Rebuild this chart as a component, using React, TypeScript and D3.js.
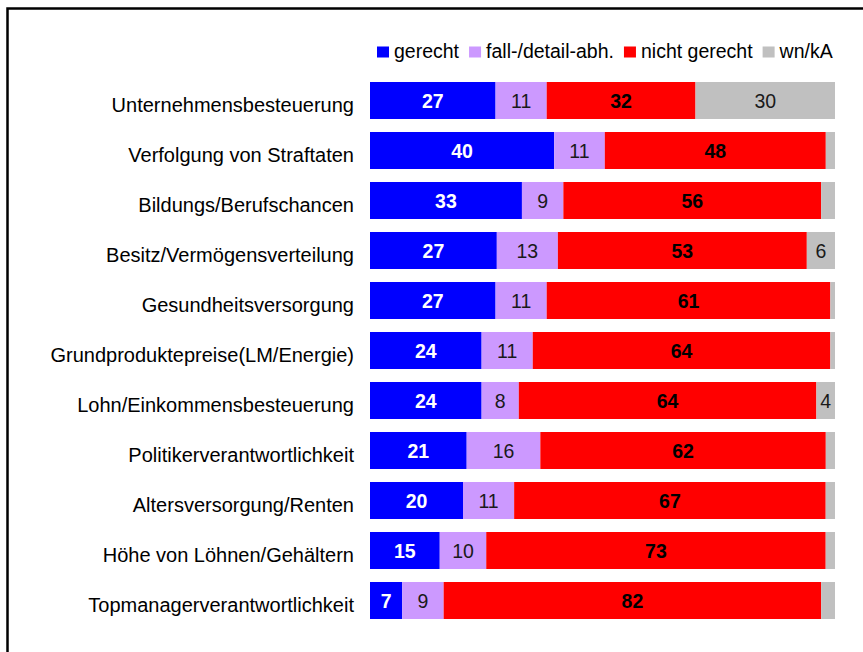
import React, { useEffect, useRef } from 'react';
import * as d3 from 'd3';

const categories = [
  'Unternehmensbesteuerung',
  'Verfolgung von Straftaten',
  'Bildungs/Berufschancen',
  'Besitz/Vermögensverteilung',
  'Gesundheitsversorgung',
  'Grundproduktepreise(LM/Energie)',
  'Lohn/Einkommensbesteuerung',
  'Politikerverantwortlichkeit',
  'Altersversorgung/Renten',
  'Höhe von Löhnen/Gehältern',
  'Topmanagerverantwortlichkeit',
];

const gerecht = [27, 40, 33, 27, 27, 24, 24, 21, 20, 15, 7];
const fallAbh = [11, 11, 9, 13, 11, 11, 8, 16, 11, 10, 9];
const nichtGerecht = [32, 48, 56, 53, 61, 64, 64, 62, 67, 73, 82];
const wnKa = [30, 2, 3, 6, 1, 1, 4, 2, 2, 2, 3];

const seriesNames = ['gerecht', 'fall-/detail-abh.', 'nicht gerecht', 'wn/kA'];
const seriesColors = ['#0000ff', '#cc99ff', '#ff0000', '#c0c0c0'];

const W = 863;
const H = 652;
const FONT = '"Liberation Sans", Arial, sans-serif';

const App: React.FC = () => {
  const ref = useRef<SVGSVGElement>(null);

  useEffect(() => {
    const svg = d3.select(ref.current);
    svg.selectAll('*').remove();

    // frame (runs off the right and bottom edge like in the original)
    svg.append('rect')
      .attr('x', 7.5).attr('y', 8.5)
      .attr('width', W + 20).attr('height', H + 20)
      .attr('fill', 'none').attr('stroke', '#000').attr('stroke-width', 2.5);

    const rows = categories.map((c, i) => ({
      name: c,
      vals: [gerecht[i], fallAbh[i], nichtGerecht[i], wnKa[i]],
    }));

    const x = d3.scaleLinear().domain([0, 1]).range([370, 835]);
    const y = d3.scaleBand<string>()
      .domain(categories)
      .range([75.5, 625.5])
      .paddingInner(0.26)
      .paddingOuter(0.13);

    const g = svg.append('g');

    rows.forEach((row) => {
      const total = d3.sum(row.vals);
      let acc = 0;
      const y0 = y(row.name)!;
      const bh = y.bandwidth();
      row.vals.forEach((v, k) => {
        const x0 = x(acc / total);
        const x1 = x((acc + v) / total);
        acc += v;
        g.append('rect')
          .attr('x', x0).attr('y', y0)
          .attr('width', x1 - x0).attr('height', bh)
          .attr('fill', seriesColors[k]);
        if (k < 3 || v >= 4) {
          g.append('text')
            .attr('x', (x0 + x1) / 2)
            .attr('y', y0 + bh / 2 + 7.5)
            .attr('text-anchor', 'middle')
            .attr('font-family', FONT)
            .attr('font-size', 19.5)
            .attr('font-weight', k === 0 || k === 2 ? 'bold' : 'normal')
            .attr('fill', k === 0 ? '#fff' : k === 2 ? '#000' : '#1a1a1a')
            .text(v);
        }
      });

      g.append('text')
        .attr('x', 354)
        .attr('y', y0 + bh / 2 + 11)
        .attr('text-anchor', 'end')
        .attr('font-family', FONT)
        .attr('font-size', 20)
        .attr('fill', '#000')
        .text(row.name);
    });

    // legend
    const leg = svg.append('g');
    let lx = 377;
    seriesNames.forEach((s, k) => {
      leg.append('rect')
        .attr('x', lx).attr('y', 46.5)
        .attr('width', 12).attr('height', 11)
        .attr('fill', seriesColors[k]);
      const t = leg.append('text')
        .attr('x', lx + 17)
        .attr('y', 58)
        .attr('font-family', FONT)
        .attr('font-size', 19.5)
        .attr('fill', '#000')
        .text(s);
      const w = (t.node() as SVGTextElement).getComputedTextLength();
      lx += 17 + w + 10;
    });
  }, []);

  return (
    <svg
      ref={ref}
      width={W}
      height={H}
      style={{ position: 'absolute', left: 0, top: 0, background: '#fff' }}
    />
  );
};

export default App;
